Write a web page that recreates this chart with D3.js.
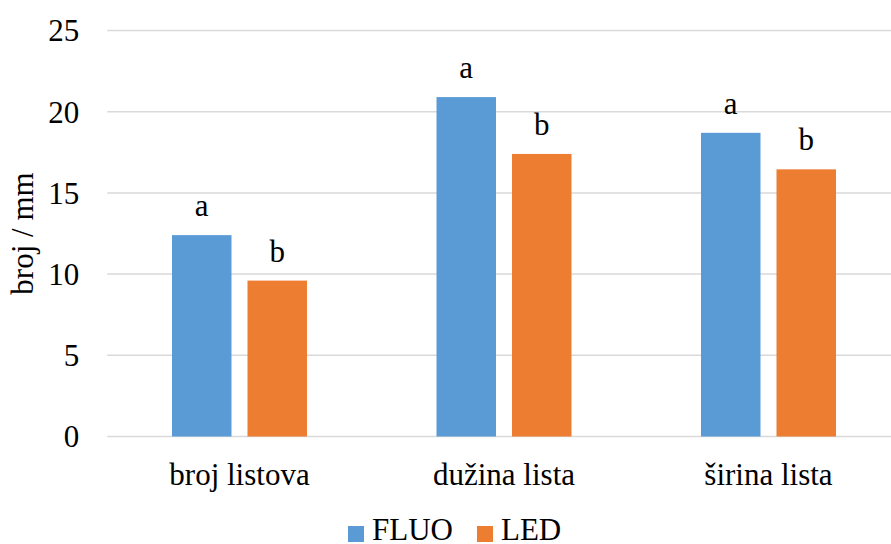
<!DOCTYPE html>
<html>
<head>
<meta charset="utf-8">
<script src="https://cdn.jsdelivr.net/npm/d3@7"></script>
</head>
<body style="margin:0">
<div id="viz"></div>
<script>
const categories = ["broj listova", "dužina lista", "širina lista"];
const seriesNames = ["FLUO", "LED"];
const fluoValues = [12.4, 20.9, 18.7];
const ledValues = [9.6, 17.4, 16.45];
const fluoLetters = ["a", "a", "a"];
const ledLetters = ["b", "b", "b"];
const yTicks = [0, 5, 10, 15, 20, 25];
const colors = ["#5B9BD5", "#ED7D31"];

const W = 891, H = 544;
const margin = { top: 30.5, left: 107.25, bottom: 107.5 };
const plotW = 793.5;
const plotH = H - margin.top - margin.bottom;
const fontStack = '"Times New Roman", Tinos, "Liberation Serif", serif';

const svg = d3.select("#viz").append("svg")
    .attr("width", W)
    .attr("height", H)
    .attr("font-family", fontStack);

const g = svg.append("g").attr("transform", `translate(${margin.left},${margin.top})`);

const y = d3.scaleLinear().domain([0, 25]).range([plotH, 0]);
const x0 = d3.scaleBand().domain(categories).range([0, plotW]).padding(0);
const x1 = d3.scaleBand().domain(seriesNames).range([64.75, x0.bandwidth() - 64.75]).paddingInner(0.212);

// gridlines
g.selectAll(".grid")
    .data(yTicks)
    .enter().append("line")
    .attr("x1", 0).attr("x2", plotW)
    .attr("y1", d => y(d)).attr("y2", d => y(d))
    .attr("stroke", "#D9D9D9")
    .attr("stroke-width", 1.5);

// y tick labels
g.selectAll(".ytick")
    .data(yTicks)
    .enter().append("text")
    .attr("x", -28)
    .attr("y", d => y(d))
    .attr("dy", "0.35em")
    .attr("text-anchor", "end")
    .attr("font-family", fontStack)
    .attr("font-size", 31)
    .text(d => d);

const rows = categories.map((c, i) => ({
    cat: c,
    vals: [
        { s: "FLUO", v: fluoValues[i], l: fluoLetters[i] },
        { s: "LED", v: ledValues[i], l: ledLetters[i] }
    ]
}));

const grp = g.selectAll(".grp")
    .data(rows)
    .enter().append("g")
    .attr("transform", d => `translate(${x0(d.cat)},0)`);

grp.selectAll("rect")
    .data(d => d.vals)
    .enter().append("rect")
    .attr("x", d => x1(d.s))
    .attr("width", x1.bandwidth())
    .attr("y", d => y(d.v))
    .attr("height", d => y(0) - y(d.v))
    .attr("fill", (d, i) => colors[i]);

grp.selectAll(".lbl")
    .data(d => d.vals)
    .enter().append("text")
    .attr("x", d => x1(d.s) + x1.bandwidth() / 2)
    .attr("y", d => y(d.v) - 19)
    .attr("text-anchor", "middle")
    .attr("font-family", fontStack)
    .attr("font-size", 31)
    .text(d => d.l);

// category labels
g.selectAll(".xlab")
    .data(categories)
    .enter().append("text")
    .attr("x", d => x0(d) + x0.bandwidth() / 2)
    .attr("y", plotH + 48)
    .attr("text-anchor", "middle")
    .attr("font-family", fontStack)
    .attr("font-size", 31)
    .text(d => d);

// y axis title
svg.append("text")
    .attr("transform", `translate(33,${margin.top + plotH / 2}) rotate(-90)`)
    .attr("text-anchor", "middle")
    .attr("font-family", fontStack)
    .attr("font-size", 31)
    .text("broj / mm");

// legend
const legendX = [348, 477];
seriesNames.forEach((s, i) => {
    svg.append("rect")
        .attr("x", legendX[i]).attr("y", 526)
        .attr("width", 16).attr("height", 16)
        .attr("fill", colors[i]);
    svg.append("text")
        .attr("x", legendX[i] + 24).attr("y", 540)
        .attr("font-family", fontStack)
        .attr("font-size", 31)
        .text(s);
});
</script>
</body>
</html>
